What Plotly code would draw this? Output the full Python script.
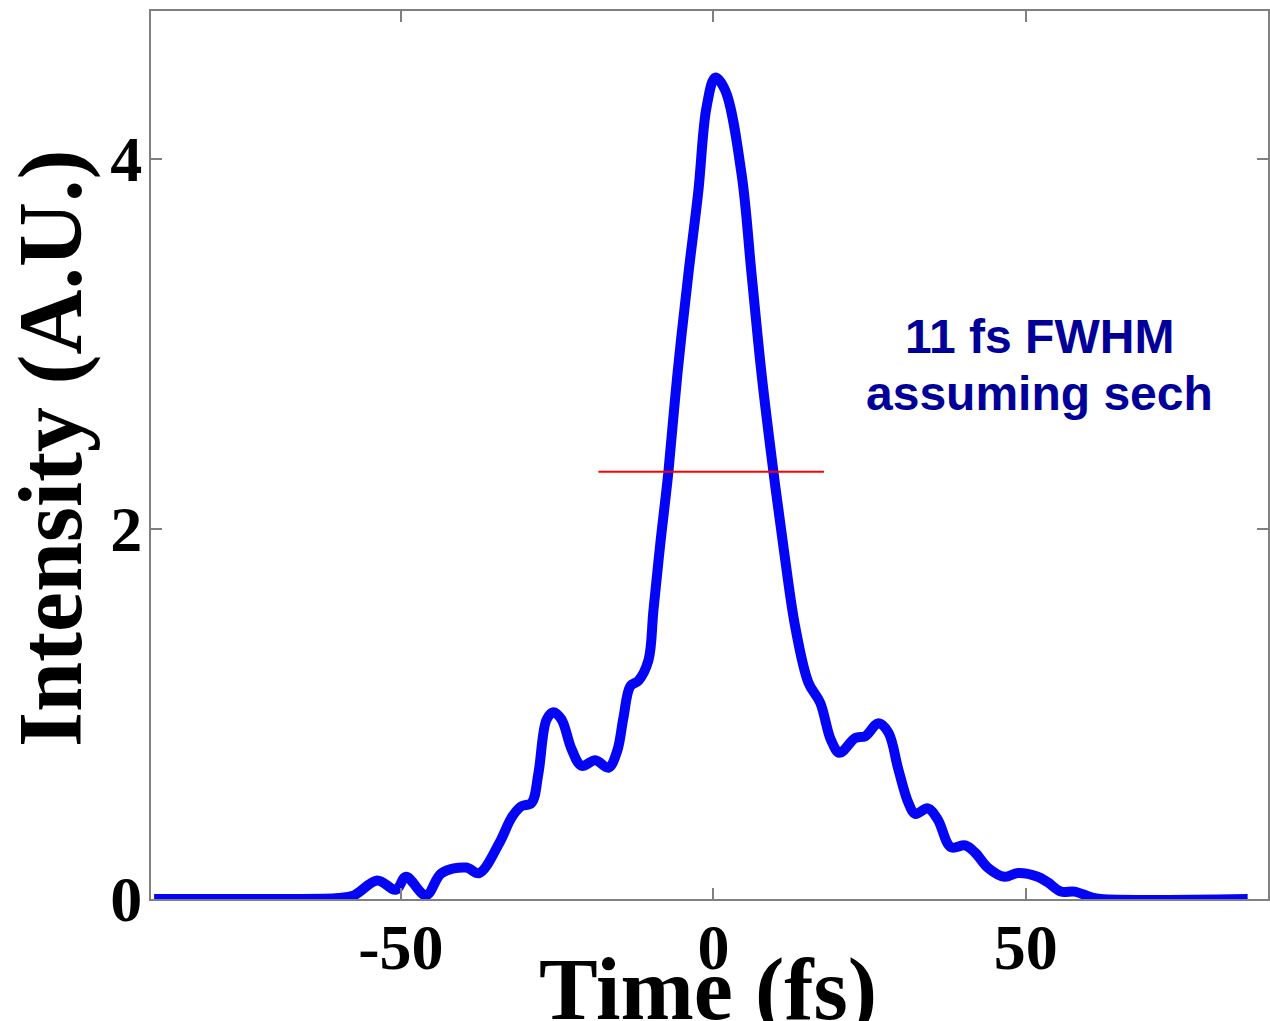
import plotly.graph_objects as go

# Autocorrelation trace
time_fs = [-89.5, -70.0, -60.0, -57.5, -53.8, -50.8, -49.2, -46.0, -43.5, -39.6, -37.5,
           -34.3, -32.3, -30.8, -29.1, -28.0, -26.7, -25.6, -24.3, -22.7, -21.1, -18.9,
           -16.8, -15.4, -14.4, -13.3, -12.0, -10.4, -9.6, -8.5, -7.2, -5.75, -4.0, -2.4,
           -1.1, 0.3, 1.9, 4.5, 6.1, 7.7, 9.6, 11.5, 13.1, 15.2, 17.1, 18.8, 20.2, 22.7,
           24.3, 26.4, 28.0, 29.6, 31.2, 32.3, 34.3, 35.9, 38.0, 40.3, 41.9, 43.9, 46.6,
           48.7, 51.9, 53.5, 55.6, 57.8, 60.4, 62.0, 85.5]
intensity = [0.0, 0.0, 0.005, 0.02, 0.10, 0.05, 0.12, 0.02, 0.14, 0.17, 0.14,
             0.30, 0.44, 0.50, 0.52, 0.68, 0.97, 1.01, 0.97, 0.81, 0.72, 0.75,
             0.71, 0.80, 0.98, 1.15, 1.18, 1.29, 1.56, 1.92, 2.31, 2.84, 3.38, 3.83,
             4.28, 4.44, 4.37, 3.92, 3.38, 2.84, 2.31, 1.83, 1.47, 1.17, 1.06, 0.86, 0.79, 0.87,
             0.88, 0.95, 0.90, 0.70, 0.52, 0.46, 0.49, 0.43, 0.28, 0.29, 0.25, 0.17, 0.12,
             0.14, 0.12, 0.09, 0.04, 0.04, 0.01, 0.0, 0.0]

# FWHM marker
fwhm_x = [-18.4, 17.7]
fwhm_level = [2.31, 2.31]

x_tickvals = [-50, 0, 50]
x_ticktext = ["-50", "0", "50"]
y_tickvals = [0, 2, 4]
y_ticktext = ["0", "2", "4"]

x_title = "Time (fs)"
y_title = "Intensity (A.U.)"
note_lines = ["11 fs FWHM", "assuming sech"]

fig = go.Figure()
fig.add_trace(go.Scatter(
    x=time_fs, y=intensity, mode="lines",
    line=dict(color="#0505f5", width=10, shape="spline", smoothing=1.0),
    showlegend=False, hoverinfo="skip"))
fig.add_trace(go.Scatter(
    x=fwhm_x, y=fwhm_level, mode="lines",
    line=dict(color="#ff0000", width=2),
    showlegend=False, hoverinfo="skip"))

serif = "Liberation Serif, Times New Roman, serif"
axis_common = dict(
    showline=True, linecolor="#808080", linewidth=2, mirror="ticks",
    ticks="inside", ticklen=11, tickwidth=2, tickcolor="#808080",
    showgrid=False, zeroline=False,
    tickfont=dict(family=serif, size=64, color="black", weight="bold"),
)

fig.update_xaxes(range=[-90, 88.75], tickvals=x_tickvals, ticktext=x_ticktext,
                 ticklabelstandoff=-9, **axis_common)
fig.update_yaxes(range=[0, 4.8], tickvals=y_tickvals, ticktext=y_ticktext,
                 ticklabelstandoff=-6, **axis_common)

annotations = [
    dict(text=x_title, xref="paper", yref="paper", x=0.5, y=0, xanchor="center",
         yanchor="top", yshift=-40, xshift=-2, showarrow=False,
         font=dict(family=serif, size=88, color="black", weight="bold")),
    dict(text=y_title, xref="paper", yref="paper", x=0, y=0.5, xanchor="center",
         yanchor="middle", xshift=-100, yshift=6, textangle=-90, showarrow=False,
         font=dict(family=serif, size=90, color="black", weight="bold")),
]
for i, line in enumerate(note_lines):
    annotations.append(dict(
        text=line, xref="paper", yref="paper", x=(1041 - 151) / 1119, y=(899 - 336 - i * 57) / 888,
        xanchor="center", yanchor="middle", showarrow=False,
        font=dict(family="Liberation Sans, Arial, sans-serif", size=48, color="#000099", weight="bold")))

fig.update_layout(
    width=1270, height=1021,
    margin=dict(l=151, r=0, t=11, b=122),
    paper_bgcolor="white", plot_bgcolor="white",
    annotations=annotations,
)

fig.write_html("out.html")
